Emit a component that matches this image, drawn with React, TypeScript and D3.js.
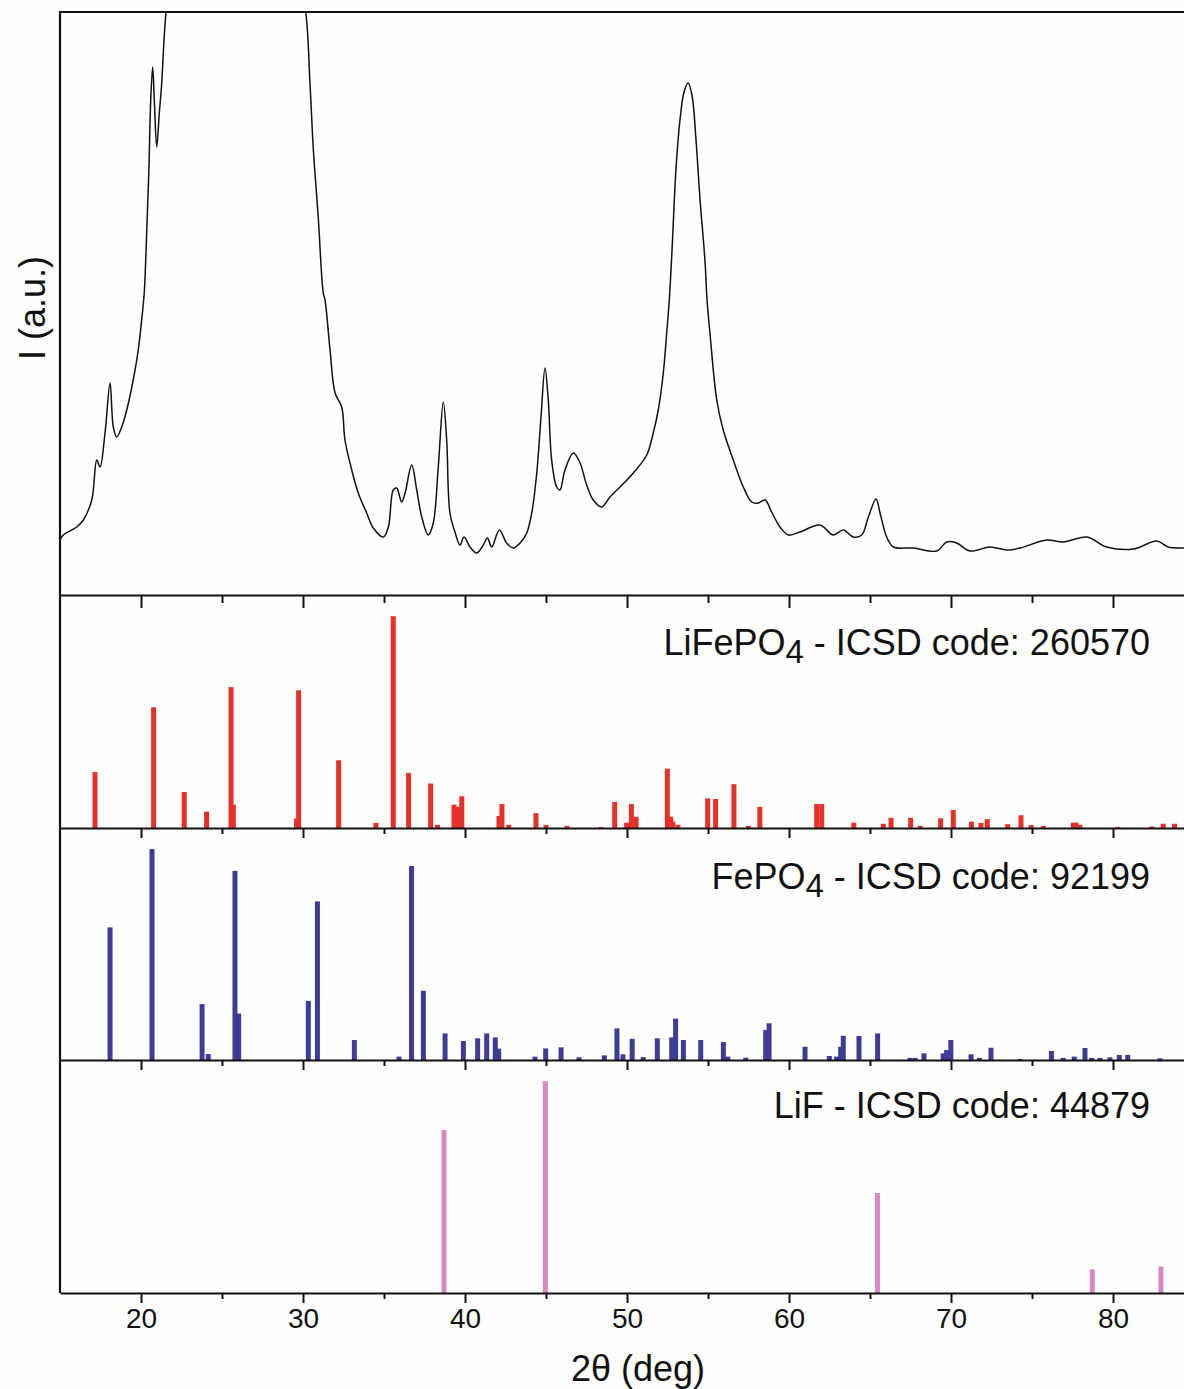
import React, { useEffect, useRef } from 'react';
import * as d3 from 'd3';

// Measured XRD pattern (2θ in degrees, intensity in arbitrary units)
const xrdTwoTheta = [
  15.0, 15.2, 16.03, 16.44, 16.96, 17.27, 17.47, 17.78, 18.09, 18.29, 18.5, 18.81, 19.12, 19.52, 19.83,
  20.04, 20.2, 20.35, 20.49, 20.6, 20.72, 20.82, 20.97, 21.13, 21.28, 21.42, 21.54, 21.79, 23.02, 25.49,
  27.96, 29.51, 30.17, 30.43, 30.64, 30.94, 31.25, 31.36, 31.67, 31.98, 32.39, 32.59, 33.01, 33.41, 33.93,
  34.34, 34.96, 35.27, 35.57, 35.78, 36.09, 36.3, 36.71, 37.02, 37.33, 37.73, 38.04, 38.35, 38.66, 38.87,
  39.07, 39.38, 39.69, 39.94, 40.31, 40.72, 41.13, 41.38, 41.65, 42.12, 42.57, 42.98, 43.4, 43.81, 44.12,
  44.43, 44.69, 44.94, 45.14, 45.35, 45.66, 45.86, 46.17, 46.69, 47.1, 47.51, 47.92, 48.44, 48.95, 49.57,
  50.39, 51.22, 51.62, 51.93, 52.24, 52.45, 52.61, 52.78, 53.02, 53.27, 53.52, 53.77, 54.01, 54.26, 54.51,
  54.81, 54.94, 55.12, 55.54, 55.94, 56.56, 57.18, 57.7, 58.1, 58.52, 58.93, 59.44, 59.96, 60.68, 61.91,
  62.73, 63.35, 63.97, 64.49, 64.9, 65.37, 65.62, 66.03, 66.44, 67.67, 69.12, 69.73, 70.35, 71.17, 72.41,
  73.44, 74.26, 75.91, 76.93, 78.38, 79.61, 81.25, 82.7, 83.41, 84.34, 85.0,
];
const xrdIntensity = [
  55, 60, 68, 75, 95, 135, 128, 162, 212, 168, 158, 168, 185, 215, 245,
  275, 302, 362, 428, 495, 528, 495, 448, 482, 512, 555, 583, 630, 720, 780,
  720, 640, 583, 512, 445, 378, 302, 295, 245, 202, 188, 155, 125, 102, 82,
  67, 58, 68, 105, 107, 93, 102, 130, 105, 78, 60, 72, 128, 193, 155,
  82, 63, 50, 58, 48, 42, 50, 57, 48, 65, 52, 47, 52, 62, 82,
  122, 178, 227, 195, 135, 108, 105, 125, 142, 132, 110, 95, 88, 98, 108,
  122, 140, 162, 185, 222, 262, 295, 345, 425, 475, 503, 512, 500, 455, 395,
  335, 295, 262, 195, 165, 135, 108, 93, 92, 95, 83, 68, 60, 63, 70,
  60, 65, 58, 60, 78, 96, 82, 58, 48, 47, 44, 53, 52, 44, 48,
  45, 47, 55, 53, 58, 48, 46, 54, 48, 47, 47,
];

// LiFePO4 - ICSD 260570 reference peaks
const lifepo4Pos = [
  17.16, 20.78, 22.67, 24.05, 25.56, 25.7, 29.6, 29.73, 32.2, 34.5, 35.57, 36.52, 37.88, 38.3, 39.32,
  39.55, 39.8, 42.1, 42.28, 42.7, 44.38, 45.0, 46.3, 48.4, 49.24, 49.98, 50.27, 50.56, 52.49, 52.7,
  52.83, 53.14, 54.98, 55.47, 56.6, 57.5, 58.2, 61.71, 62.02, 64.0, 65.82, 66.3, 67.51, 68.1, 69.36,
  70.14, 71.27, 71.85, 72.24, 73.5, 74.32, 74.95, 75.7, 77.55, 77.72, 77.96, 80.3, 82.4, 83.1, 83.8,
];
const lifepo4Int = [
  26.4, 57, 17, 7.7, 66.5, 11, 4.5, 65, 32, 2.4, 100, 26, 21, 1.5, 11,
  10, 15, 5.7, 11.3, 1.5, 7, 1.5, 1, 0.5, 12.3, 2.5, 11.3, 5.3, 28, 5.3,
  3, 1.5, 14, 13.7, 20.7, 1, 10, 11.3, 11.3, 2.5, 2, 4.8, 4.8, 1, 4.6,
  8.5, 3, 2.4, 4.2, 1.8, 6, 1.4, 1, 2.5, 2.5, 1.5, 0.5, 0.7, 2, 2,
];

// FePO4 - ICSD 92199 reference peaks
const fepo4Pos = [
  18.09, 20.68, 23.77, 24.15, 25.8, 26.03, 30.33, 30.89, 33.17, 35.93, 36.7, 37.43, 38.77, 39.9, 40.78,
  41.34, 41.87, 42.08, 44.32, 44.98, 45.93, 47.04, 48.6, 49.38, 49.75, 50.32, 51.0, 51.87, 52.76, 53.0,
  53.48, 54.55, 55.95, 56.22, 57.33, 58.56, 58.77, 60.99, 62.49, 62.94, 63.19, 63.35, 64.32, 65.47, 67.47,
  67.78, 68.33, 69.52, 69.73, 69.99, 71.24, 71.75, 72.47, 74.26, 76.2, 76.93, 77.61, 78.27, 78.68, 79.2,
  79.81, 80.39, 80.91, 82.9,
];
const fepo4Int = [
  62.9, 100, 26.5, 2.8, 89.7, 22, 28, 75.2, 9.5, 1.6, 92, 32.8, 12.6, 9, 10.3,
  12.6, 10.7, 5.4, 1.6, 5.5, 6, 1.3, 2.2, 15, 2.7, 10, 1.4, 10.3, 10.7, 19.6,
  9.5, 9.5, 8.5, 1.6, 1.1, 14.2, 17.4, 6.3, 1.9, 1.6, 6.3, 11.5, 11.4, 12.6, 1,
  1, 3.2, 3.2, 4.7, 9.5, 2.7, 1, 5.8, 0.5, 4.3, 1, 1.6, 5.7, 1, 1,
  1.3, 2.4, 2.4, 0.8,
];

// LiF - ICSD 44879 reference peaks
const lifPos = [38.7, 44.96, 65.46, 78.72, 82.96];
const lifInt = [76.9, 100, 47.2, 11.2, 12.5];

const majorTicks = [20, 30, 40, 50, 60, 70, 80];
const minorTicks = [25, 35, 45, 55, 65, 75, 85];
const tickLabels = ['20', '30', '40', '50', '60', '70', '80'];

const xLabel = '2θ (deg)';
const yLabel = 'I (a.u.)';

const refPanels = [
  { name: 'LiFePO', sub: '4', rest: ' - ICSD code: 260570', pos: lifepo4Pos, val: lifepo4Int, color: '#e8302b' },
  { name: 'FePO', sub: '4', rest: ' - ICSD code: 92199', pos: fepo4Pos, val: fepo4Int, color: '#3d3d96' },
  { name: 'LiF', sub: '', rest: ' - ICSD code: 44879', pos: lifPos, val: lifInt, color: '#d887c3' },
];

const W = 1184;
const H = 1389;
const FONT = '"Liberation Sans", Arial, Helvetica, sans-serif';

export default function App() {
  const ref = useRef<SVGSVGElement | null>(null);

  useEffect(() => {
    const svg = d3.select(ref.current);
    svg.selectAll('*').remove();

    const left = 60;
    const right = 1194;
    const bounds = [12, 595, 828, 1060, 1293];

    const x = d3.scaleLinear().domain([15, 85]).range([left, right]);

    svg.append('rect').attr('width', W).attr('height', H).attr('fill', '#fefefc');

    const defs = svg.append('defs');
    defs.append('clipPath').attr('id', 'topclip')
      .append('rect').attr('x', left).attr('y', bounds[0]).attr('width', right - left).attr('height', bounds[1] - bounds[0]);

    // top panel: XRD pattern
    const yTop = d3.scaleLinear().domain([0, 583]).range([bounds[1], bounds[0]]);
    const pts: [number, number][] = xrdTwoTheta.map((t, i) => [t, xrdIntensity[i]]);
    const line = d3.line<[number, number]>()
      .x(d => x(d[0]))
      .y(d => yTop(d[1]))
      .curve(d3.curveCatmullRom.alpha(0.5));
    svg.append('path')
      .attr('d', line(pts) as string)
      .attr('fill', 'none')
      .attr('stroke', '#111')
      .attr('stroke-width', 1.5)
      .attr('clip-path', 'url(#topclip)');

    // reference panels
    refPanels.forEach((p, k) => {
      const top = bounds[k + 1];
      const bottom = bounds[k + 2];
      const y = d3.scaleLinear().domain([0, 110]).range([bottom, top]);
      const g = svg.append('g');
      g.selectAll('rect')
        .data(p.pos.map((pos, i) => ({ pos, v: p.val[i] })))
        .enter()
        .append('rect')
        .attr('x', d => x(d.pos) - 2.5)
        .attr('width', 5)
        .attr('y', d => y(d.v))
        .attr('height', d => bottom - y(d.v))
        .attr('fill', p.color);

      const labelY = [655, 889, 1118][k];
      const t = svg.append('text')
        .attr('x', 1150)
        .attr('y', labelY)
        .attr('text-anchor', 'end')
        .attr('font-family', FONT)
        .attr('font-size', 36)
        .attr('fill', '#111');
      t.append('tspan').text(p.name);
      if (p.sub) {
        t.append('tspan').attr('dy', 8).attr('font-size', 33).text(p.sub);
        t.append('tspan').attr('dy', -8).text(p.rest);
      } else {
        t.append('tspan').text(p.rest);
      }
    });

    // frame: left line & top line
    svg.append('line').attr('x1', left).attr('x2', left).attr('y1', bounds[0]).attr('y2', bounds[4])
      .attr('stroke', '#111').attr('stroke-width', 2.2);
    svg.append('line').attr('x1', left - 1).attr('x2', right).attr('y1', bounds[0]).attr('y2', bounds[0])
      .attr('stroke', '#111').attr('stroke-width', 2.2);

    // bottom axes of each panel
    for (let k = 1; k < bounds.length; k++) {
      const isLast = k === bounds.length - 1;
      const major = k === 1 ? 13 : 10;
      const minor = k === 1 ? 8 : 6;
      const gAx = svg.append('g').attr('transform', `translate(0,${bounds[k]})`);
      gAx.call(
        d3.axisBottom(x)
          .tickValues(majorTicks)
          .tickSize(major)
          .tickSizeOuter(0)
          .tickPadding(5)
          .tickFormat((d, i) => (isLast ? tickLabels[i] : '')) as any
      );
      gAx.select('.domain').attr('stroke', '#111').attr('stroke-width', 2.2);
      gAx.selectAll('.tick line').attr('stroke', '#111').attr('stroke-width', 2);
      gAx.selectAll('.tick text')
        .attr('font-family', FONT)
        .attr('font-size', 28)
        .attr('fill', '#111');
      const gm = svg.append('g').attr('transform', `translate(0,${bounds[k]})`);
      gm.call(d3.axisBottom(x).tickValues(minorTicks).tickSize(minor).tickSizeOuter(0).tickFormat(() => '') as any);
      gm.select('.domain').remove();
      gm.selectAll('.tick line').attr('stroke', '#111').attr('stroke-width', 2);
    }

    // axis labels
    svg.append('text')
      .attr('x', 638)
      .attr('y', 1381)
      .attr('text-anchor', 'middle')
      .attr('font-family', FONT)
      .attr('font-size', 36)
      .attr('fill', '#111')
      .text(xLabel);

    svg.append('text')
      .attr('transform', 'translate(45,308) rotate(-90)')
      .attr('text-anchor', 'middle')
      .attr('font-family', FONT)
      .attr('font-size', 36)
      .attr('fill', '#111')
      .text(yLabel);
  }, []);

  return (
    <svg
      ref={ref}
      width={W}
      height={H}
      style={{ position: 'absolute', left: 0, top: 0, display: 'block' }}
    />
  );
}
